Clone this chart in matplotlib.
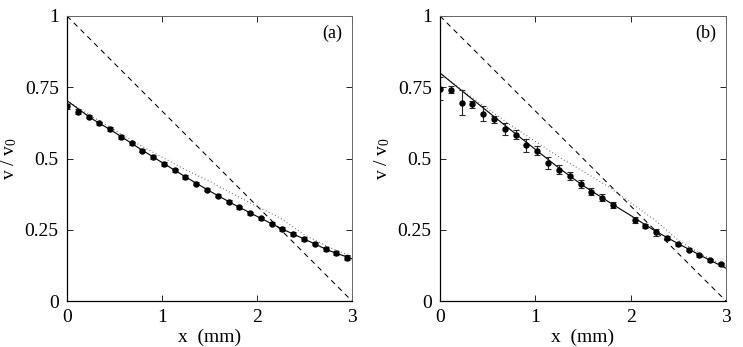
import numpy as np
import matplotlib
matplotlib.use("Agg")
import matplotlib.pyplot as plt

plt.rcParams['font.family'] = ['Liberation Serif', 'DejaVu Serif']
plt.rcParams['mathtext.fontset'] = 'custom'
plt.rcParams['mathtext.rm'] = 'Liberation Serif'
plt.rcParams['mathtext.it'] = 'Liberation Serif:italic'

# ---- data ----
x_a = [0.000, 0.113, 0.227, 0.340, 0.454, 0.567, 0.680, 0.794, 0.907, 1.021,
       1.134, 1.247, 1.361, 1.474, 1.588, 1.701, 1.814, 1.928, 2.041, 2.155,
       2.268, 2.381, 2.495, 2.608, 2.722, 2.835, 2.948]
v_a = [0.683, 0.664, 0.647, 0.623, 0.603, 0.575, 0.553, 0.528, 0.506, 0.481,
       0.458, 0.435, 0.412, 0.391, 0.370, 0.349, 0.329, 0.308, 0.290, 0.271,
       0.252, 0.235, 0.218, 0.201, 0.182, 0.167, 0.152]
err_a = [0.008, 0.008, 0.006, 0.006, 0.006, 0.006, 0.006, 0.006, 0.006, 0.006,
         0.006, 0.006, 0.006, 0.006, 0.006, 0.006, 0.006, 0.006, 0.006, 0.006,
         0.006, 0.006, 0.006, 0.006, 0.008, 0.007, 0.008]

x_b = [0.000, 0.113, 0.227, 0.340, 0.454, 0.567, 0.680, 0.794, 0.907, 1.021,
       1.134, 1.247, 1.361, 1.474, 1.588, 1.701, 1.814, 2.041, 2.155,
       2.268, 2.381, 2.495, 2.608, 2.722, 2.835, 2.948]
v_b = [0.745, 0.742, 0.696, 0.690, 0.657, 0.638, 0.604, 0.583, 0.546, 0.527,
       0.484, 0.461, 0.438, 0.411, 0.384, 0.363, 0.338, 0.284, 0.263,
       0.241, 0.221, 0.199, 0.180, 0.160, 0.143, 0.129]
err_b = [0.040, 0.012, 0.044, 0.013, 0.027, 0.012, 0.022, 0.016, 0.023, 0.016,
         0.020, 0.017, 0.013, 0.015, 0.012, 0.013, 0.010, 0.010, 0.008,
         0.012, 0.008, 0.006, 0.006, 0.005, 0.005, 0.005]

# model curves
x_fit = [0.0, 0.25, 0.5, 0.75, 1.0, 1.25, 1.5, 1.75, 2.0, 2.25, 2.5, 2.75, 3.0]
solid_a = [0.703, 0.642, 0.592, 0.538, 0.486, 0.435, 0.386, 0.340, 0.297, 0.255, 0.217, 0.178, 0.148]
dotted_a = [0.703, 0.650, 0.600, 0.550, 0.505, 0.460, 0.420, 0.375, 0.332, 0.290, 0.232, 0.190, 0.155]
solid_b = [0.800, 0.732, 0.665, 0.598, 0.532, 0.466, 0.405, 0.352, 0.300, 0.247, 0.201, 0.157, 0.115]
dotted_b = [0.800, 0.735, 0.675, 0.615, 0.560, 0.505, 0.455, 0.405, 0.345, 0.285, 0.213, 0.162, 0.122]

x_dash = [0.0, 3.0]
dash = [1.0, 0.0]

xticks = [0, 1, 2, 3]
yticks = [0, 0.25, 0.5, 0.75, 1]
yticklabels = ['0', '0.25', '0.5', '0.75', '1']
panel_labels = ['(a)', '(b)']

W, H = 743, 347
fig = plt.figure(figsize=(W / 100, H / 100), dpi=100)

rects = [(67, 16, 285, 285), (440, 16, 286, 285)]
series = [(x_a, v_a, err_a, solid_a, dotted_a),
          (x_b, v_b, err_b, solid_b, dotted_b)]

for (l, t, w, h), (xs, vs, es, sol, dot), lab in zip(rects, series, panel_labels):
    ax = fig.add_axes([l / W, 1 - (t + h) / H, w / W, h / H])
    ax.plot(x_dash, dash, color='black', lw=0.75, linestyle=(0, (5.0, 4.2)))
    ax.plot(x_fit, dot, color='0.3', lw=0.8, linestyle=(0, (0.7, 2.4)))
    ax.plot(x_fit, sol, color='black', lw=0.8)
    ax.errorbar(xs, vs, yerr=es, fmt='o', color='black', ms=3.6,
                ecolor='0.15', elinewidth=0.8, capsize=2.5, capthick=0.8)
    ax.set_xlim(0, 3)
    ax.set_ylim(0, 1)
    ax.set_xticks(xticks)
    ax.set_yticks(yticks)
    ax.set_yticklabels(yticklabels)
    ax.tick_params(direction='in', top=True, right=True, length=4, width=0.6,
                   labelsize=14, pad=6, colors='black')
    for s in ['left', 'bottom']:
        ax.spines[s].set_linewidth(0.9)
    for s in ['top', 'right']:
        ax.spines[s].set_linewidth(0.7)
        ax.spines[s].set_color('0.4')
    ax.set_xlabel('x  (mm)', fontsize=14, labelpad=2)
    ax.set_ylabel(r'v / v$_{\mathrm{0}}$', fontsize=14, labelpad=4)
    ax.text(0.93, 0.94, lab, transform=ax.transAxes, fontsize=13,
            ha='center', va='center')

fig.savefig('out.png', dpi=100)
